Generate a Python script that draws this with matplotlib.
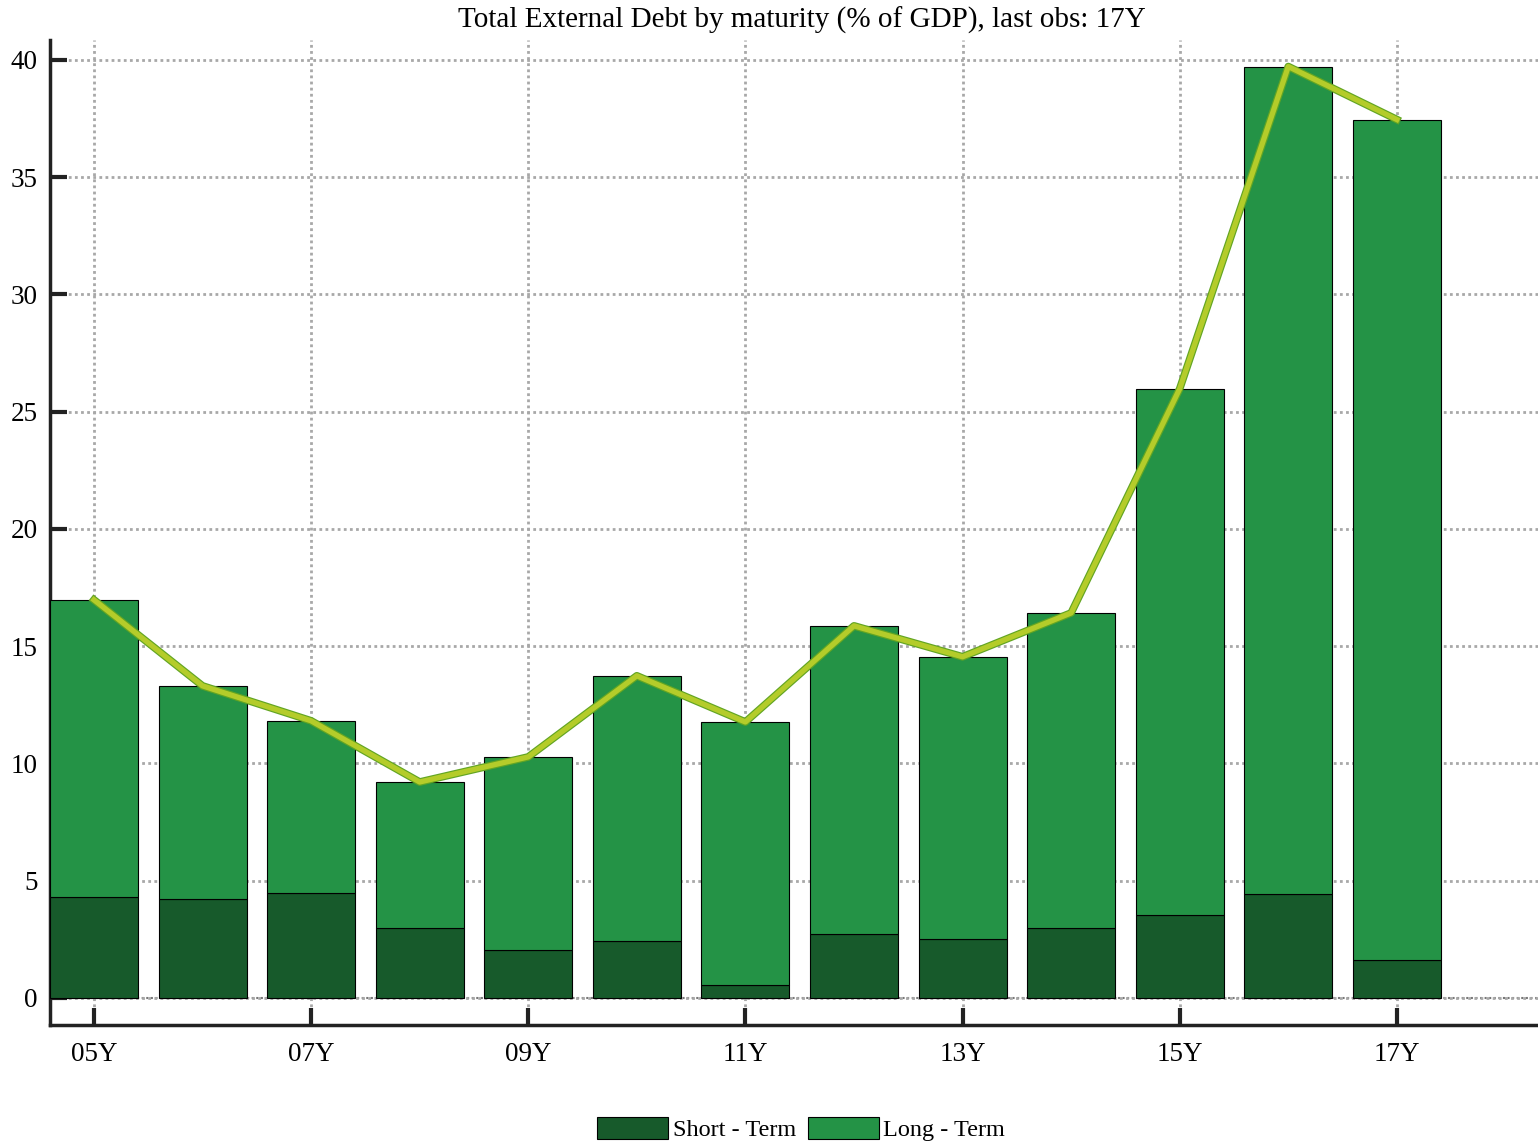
import numpy as np
import matplotlib
matplotlib.use('Agg')
import matplotlib.pyplot as plt

plt.rcParams['font.family'] = ['Liberation Serif', 'DejaVu Serif']

# chart data
years = [2005, 2006, 2007, 2008, 2009, 2010, 2011, 2012, 2013, 2014, 2015, 2016, 2017]
short_term = [4.3, 4.22, 4.48, 2.99, 2.05, 2.43, 0.55, 2.73, 2.52, 2.99, 3.54, 4.44, 1.62]
total = [16.98, 13.31, 11.82, 9.21, 10.28, 13.74, 11.77, 15.87, 14.55, 16.42, 25.98, 39.72, 37.46]
long_term = [t - s for t, s in zip(total, short_term)]
tick_years = [2005, 2007, 2009, 2011, 2013, 2015, 2017]
tick_labels = ['05Y', '07Y', '09Y', '11Y', '13Y', '15Y', '17Y']

dark_green = '#175a2b'
green = '#249346'

fig = plt.figure(figsize=(15.38, 11.47), dpi=100)
ax = fig.add_axes([0.0325, 0.1064, 0.9675, 0.8587])

ax.bar(years, short_term, width=0.81, color=dark_green, edgecolor='black', linewidth=0.8,
       label='Short - Term', zorder=3)
ax.bar(years, long_term, width=0.81, bottom=short_term, color=green, edgecolor='black',
       linewidth=0.8, label='Long - Term', zorder=3)

# total line, drawn with a darker edge underneath
ax.plot(years, total, color='#62a523', linewidth=5.5, zorder=4)
ax.plot(years, total, color='#b4cc2a', linewidth=3.8, zorder=5)

ax.set_xlim(2004.595, 2018.3)
ax.set_ylim(-1.15, 40.85)
ax.set_yticks(np.arange(0, 41, 5))
ax.set_xticks(tick_years)
ax.set_xticklabels(tick_labels)

ax.grid(True, linestyle=(0, (1, 1.2)), color='#a8a8a8', linewidth=2, zorder=0)
ax.axhline(0, color='#777777', linestyle=(0, (1, 1.2)), linewidth=1.5, zorder=1)

for side in ['top', 'right']:
    ax.spines[side].set_visible(False)
for side in ['left', 'bottom']:
    ax.spines[side].set_linewidth(2.5)
    ax.spines[side].set_color('#222222')

ax.tick_params(axis='both', direction='in', length=12, width=3, color='#222222',
               labelsize=19.5, pad=12)
ax.tick_params(axis='y', pad=9)

ax.set_title('Total External Debt by maturity (% of GDP), last obs: 17Y', fontsize=21, pad=9,
             x=0.505)

# legend centred under the plot area
leg = fig.legend(loc='lower center', bbox_to_anchor=(0.521, -0.014), ncol=2, frameon=False,
                 fontsize=17.5, handlelength=2.9, handleheight=1.0, handletextpad=0.2,
                 columnspacing=0.5)

fig.savefig('out.png', dpi=100)
